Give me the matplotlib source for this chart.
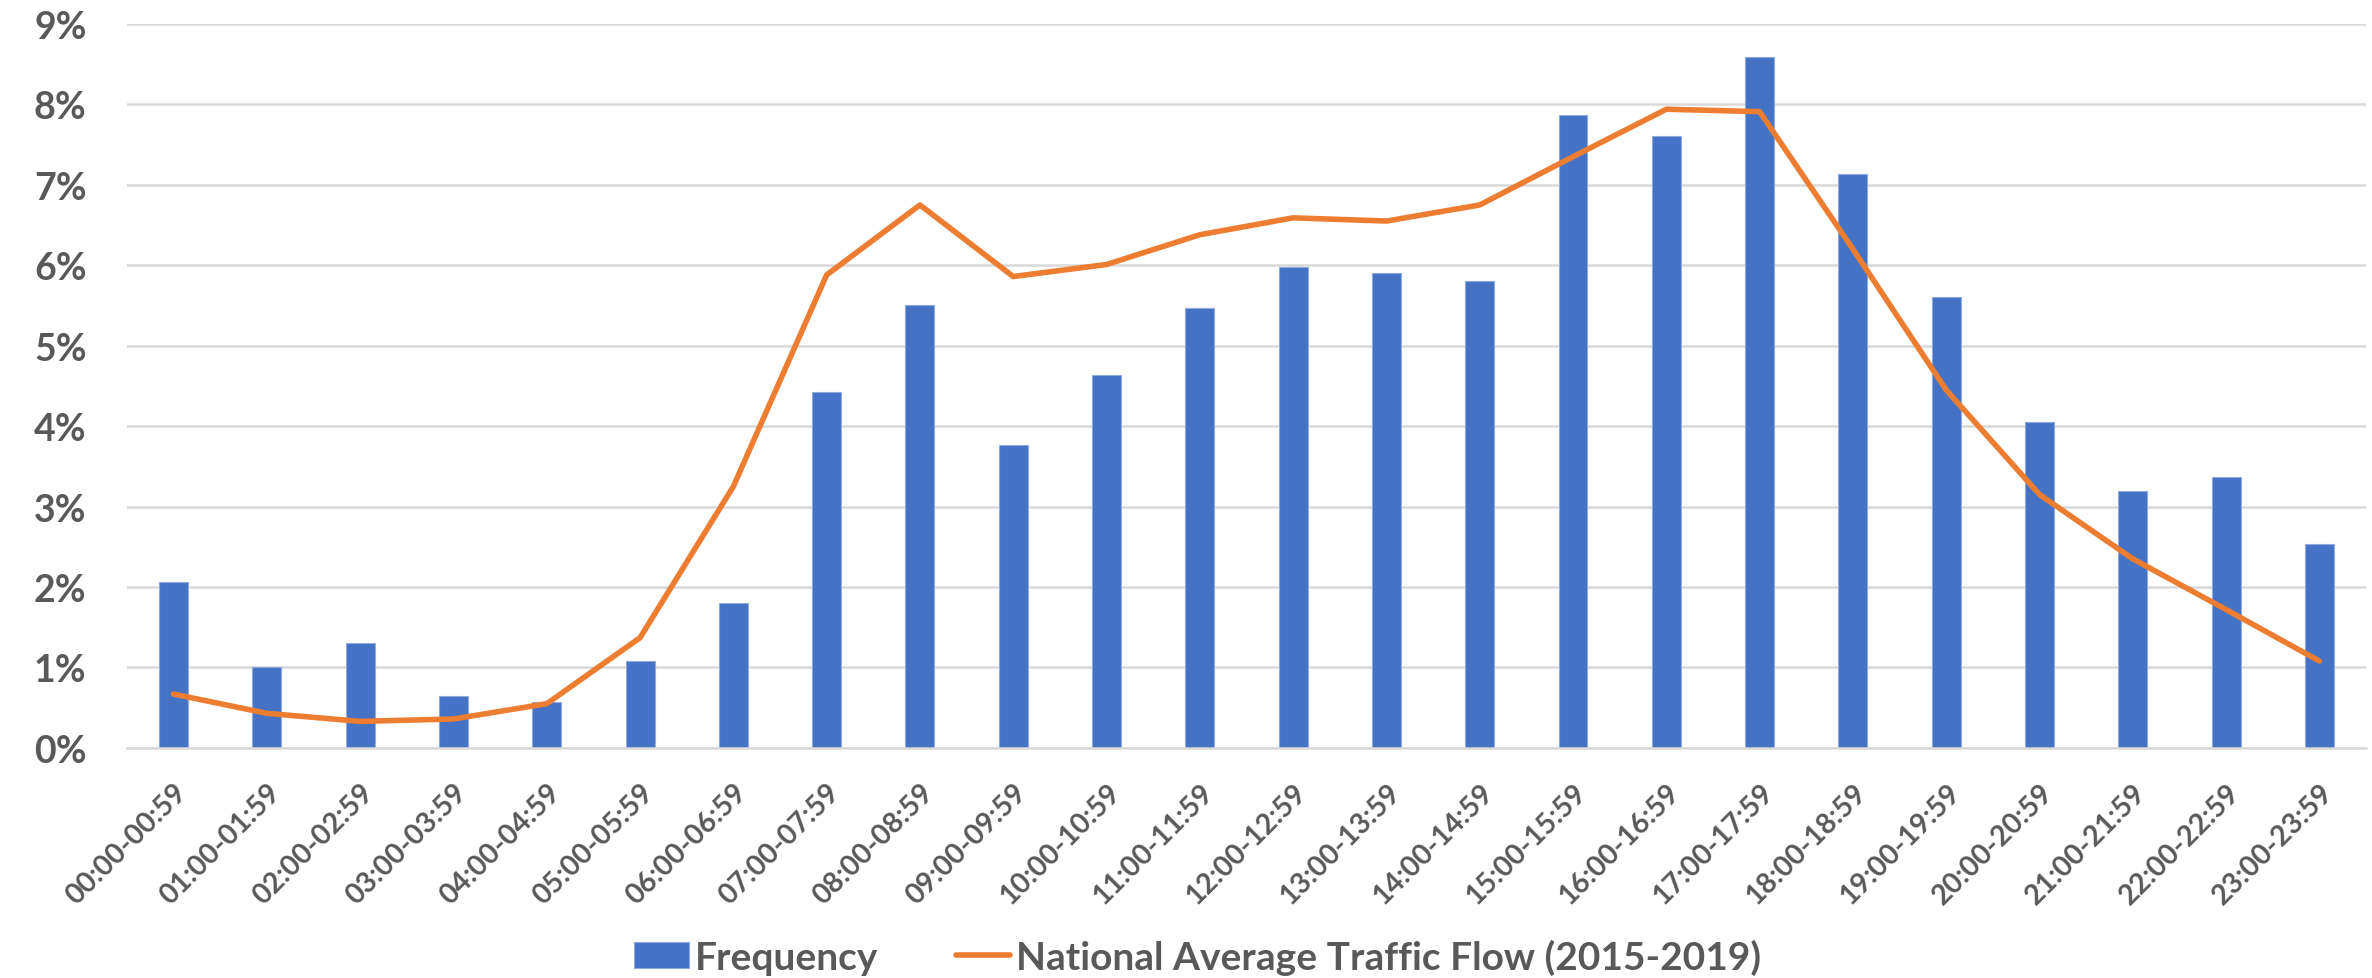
import numpy as np
import matplotlib
matplotlib.use("Agg")
import matplotlib.pyplot as plt
from matplotlib.ticker import FuncFormatter

# hourly intervals
hours = ["00:00-00:59", "01:00-01:59", "02:00-02:59", "03:00-03:59", "04:00-04:59",
         "05:00-05:59", "06:00-06:59", "07:00-07:59", "08:00-08:59", "09:00-09:59",
         "10:00-10:59", "11:00-11:59", "12:00-12:59", "13:00-13:59", "14:00-14:59",
         "15:00-15:59", "16:00-16:59", "17:00-17:59", "18:00-18:59", "19:00-19:59",
         "20:00-20:59", "21:00-21:59", "22:00-22:59", "23:00-23:59"]

# percent values
frequency = [2.06, 1.01, 1.30, 0.64, 0.57, 1.08, 1.80, 4.42, 5.51, 3.76,
             4.64, 5.47, 5.98, 5.90, 5.80, 7.87, 7.61, 8.59, 7.14, 5.61,
             4.05, 3.19, 3.37, 2.53]
traffic_flow = [0.67, 0.43, 0.33, 0.36, 0.55, 1.37, 3.25, 5.88, 6.75, 5.86,
                6.01, 6.38, 6.59, 6.55, 6.75, 7.35, 7.94, 7.91, 6.20, 4.45,
                3.15, 2.35, 1.72, 1.08]

blue = "#4472C4"
orange = "#ED7D31"
grey = "#595959"
plt.rcParams['font.family'] = ["Lato", "DejaVu Sans"]

fig = plt.figure(figsize=(23.72, 9.79), dpi=100)
ax = fig.add_axes([0.0535, 0.235, 0.944, 0.7395])

x = np.arange(len(hours))
bars = ax.bar(x, frequency, width=0.31, color=blue, edgecolor="#8FAADC", linewidth=0.8,
              label="Frequency", zorder=2)
line, = ax.plot(x, traffic_flow, color=orange, linewidth=4, solid_joinstyle="round",
                solid_capstyle="round", label="National Average Traffic Flow (2015-2019)",
                zorder=3)

ax.set_xlim(-0.5, len(hours) - 0.5)
ax.set_ylim(0, 9)
ax.set_yticks(range(0, 10))
ax.yaxis.set_major_formatter(FuncFormatter(lambda v, p: f"{int(v)}%"))
ax.grid(axis="y", color="#D9D9D9", linewidth=1.8, zorder=0)
ax.set_axisbelow(True)

for s in ["top", "right", "left"]:
    ax.spines[s].set_visible(False)
ax.spines["bottom"].set_color("#D9D9D9")
ax.spines["bottom"].set_linewidth(1.8)

ax.tick_params(axis="y", length=0, pad=29, labelsize=27, labelcolor=grey)
for lab in ax.get_yticklabels():
    lab.set_fontweight("bold")

ax.set_xticks(x)
ax.set_xticklabels(hours, rotation=45, ha="right", rotation_mode="anchor",
                   fontsize=20.5, fontweight="bold", color=grey)
ax.tick_params(axis="x", length=0, pad=22)

leg = fig.legend(handles=[bars, line],
                 labels=["Frequency", "National Average Traffic Flow (2015-2019)"],
                 loc="center", bbox_to_anchor=(0.505, 0.022), ncol=2,
                 frameon=False, handlelength=1.4, handleheight=0.65,
                 handletextpad=0.15, columnspacing=2.0, borderpad=0,
                 prop={"weight": "bold", "size": 28})
for t in leg.get_texts():
    t.set_color(grey)

fig.savefig("out.png", dpi=100)
